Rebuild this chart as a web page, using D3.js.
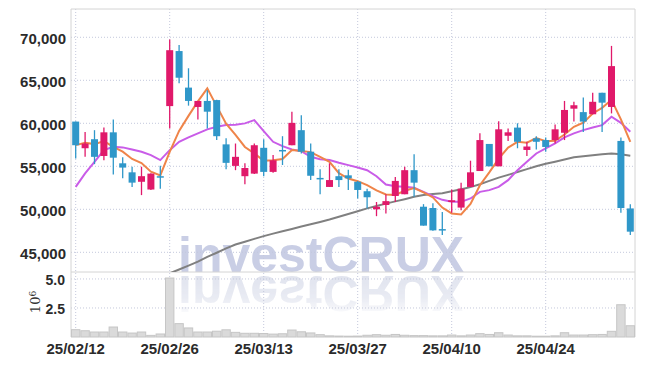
<!DOCTYPE html>
<html lang="en">
<head>
<meta charset="utf-8">
<title>Candles</title>
<script src="https://d3js.org/d3.v7.min.js"></script>
<style>
  body { margin: 0; background: #fff; }
  svg { display: block; }
  .tick-label { font-family: "Liberation Sans Narrow", "Liberation Sans", sans-serif; font-size: 15px; font-weight: bold; fill: #2b2b2b; }
  .grid { stroke: #c4c8dc; stroke-width: 1; stroke-dasharray: 1,2; }
  .frame { stroke: #d4d4d4; stroke-width: 1; fill: none; }
</style>
</head>
<body>
<svg id="chart" width="645" height="366"></svg>
<script>
// trading days
const dates = ["25/02/12","25/02/13","25/02/14","25/02/17","25/02/18","25/02/19","25/02/20","25/02/21","25/02/24","25/02/25",
  "25/02/26","25/02/27","25/02/28","25/03/04","25/03/05","25/03/06","25/03/07","25/03/10","25/03/11","25/03/12",
  "25/03/13","25/03/14","25/03/17","25/03/18","25/03/19","25/03/20","25/03/21","25/03/24","25/03/25","25/03/26",
  "25/03/27","25/03/28","25/03/31","25/04/01","25/04/02","25/04/03","25/04/04","25/04/07","25/04/08","25/04/09",
  "25/04/10","25/04/11","25/04/14","25/04/15","25/04/16","25/04/17","25/04/18","25/04/21","25/04/22","25/04/23",
  "25/04/24","25/04/25","25/04/28","25/04/29","25/04/30","25/05/02","25/05/07","25/05/08","25/05/09","25/05/12"];

const open  = [60200,57100,58150,56200,58950,55350,54300,53200,52300,53850, 62000,68400,64150,61900,62600,62700,57550,55050,53850,54150,
  57150,54350,56900,57450,59200,56700,53650,52600,53850,53950, 53200,52100,50000,50500,51550,51750,54550,50300,50150,47700,
  50850,50200,52600,54450,57600,55000,58550,59500,56900,58250, 58050,58050,58900,61700,61300,61050,63550,61900,57950,50100];
const high  = [60200,59000,59200,59500,60450,56050,54950,54950,54200,55050, 69750,69100,66400,62600,63850,62750,58250,57650,55350,57650,
  58150,56300,58500,61350,60950,57650,54650,55350,54650,54600, 53300,52400,50850,51750,53750,54950,56400,50600,50700,49700,
  52300,53100,55650,58850,57600,60250,59400,60000,57850,58500, 58350,59850,62600,62500,63000,63550,63550,69000,58350,50600];
const low   = [55900,56100,55250,55700,54050,53600,52600,51650,52250,52400, 59400,64650,62050,60450,59400,58050,54650,54550,52900,54100,
  53850,54250,55150,57450,56500,53400,51750,52600,52600,52250, 51250,50100,49200,49500,50850,51750,51450,48100,47500,47000,
  49600,49900,52600,54450,55000,55000,57950,57100,56200,56950, 56700,57650,58050,60200,59000,61050,59000,61150,49600,47000];
const close = [57450,57650,56100,58950,56000,54850,53100,53850,54150,53750, 68500,65300,62600,62600,61350,58500,55400,56100,54800,57450,
  54350,55700,56850,60050,56700,53900,53550,53400,53400,53600, 52250,51400,50300,50950,53300,54550,53100,48100,47550,47600,
  51050,52400,54300,58050,55000,59300,58950,57850,57300,57850, 57250,59300,61550,62100,60200,62500,62400,66650,50150,47400];

// moving averages
const ma5  = [57460,57730,57580,57930,57250,56700,55850,55380,54380,53950, 56670,59110,60860,62550,64070,62000,59950,58650,57250,56500,
  55650,55700,55850,56900,56780,56650,56100,55520,54200,53580, 53270,52810,52200,51720,51660,52150,52480,51970,51380,50200,
  49520,49400,50620,52800,54300,55900,57180,57840,57750,58280, 57920,57960,58700,59600,60070,61140,61800,62730,60450,57830];
const ma20 = [52610,54170,55520,56880,57270,57200,56960,56690,56300,55720, 56880,57850,58360,58830,59290,59600,59790,59830,59990,60370,
  59100,57850,57350,56960,56770,56100,55830,55720,55410,55140, 54870,54550,53850,52890,52690,52610,52500,52030,51530,51100,
  50870,50870,51260,52030,52230,52610,53390,54550,55520,56490, 57080,57660,58360,58830,59210,59520,59790,60760,60060,59010];
const ma60 = [null,null,null,null,null,null,null,null,null,42090, 42560,43000,43460,43920,44460,44950,45450,45900,46230,46560,
  46880,47170,47450,47720,47990,48260,48530,48810,49130,49450, 49780,50110,50380,50660,50920,51180,51450,51670,51790,51880,
  52110,52340,52580,52920,53300,53680,54000,54340,54670,55010, 55290,55540,55800,56040,56160,56280,56390,56500,56390,56240];

// volume in millions
const volume = [0.63,0.54,0.43,0.43,0.86,0.43,0.34,0.43,0.14,0.26, 5.08,1.15,0.78,0.43,0.43,0.50,0.62,0.40,0.32,0.32,
  0.30,0.25,0.28,0.60,0.45,0.35,0.20,0.10,0.08,0.07, 0.08,0.15,0.20,0.15,0.22,0.15,0.12,0.12,0.10,0.10,
  0.17,0.10,0.17,0.29,0.22,0.37,0.17,0.10,0.10,0.07, 0.07,0.10,0.37,0.17,0.17,0.20,0.22,0.49,2.78,0.97];

const priceTicks = [45000, 50000, 55000, 60000, 65000, 70000];
const volTicks = [2.5, 5.0];
const dateTicks = [0, 10, 20, 30, 40, 50];

const upColor = "#e0196a", downColor = "#2f97c9";

const margin = {left: 71, right: 635, top: 9, price: 272, vol: 337};

const svg = d3.select("#chart");

const x = d3.scaleLinear().domain([-0.5, dates.length - 0.5]).range([margin.left, margin.right]);
const step = x(1) - x(0);
const y = d3.scaleLinear().domain([42710, 73290]).range([margin.price, margin.top]);
const yv = d3.scaleLinear().domain([0, 5.6]).range([margin.vol, margin.price]);

// clip for price panel
const defs = svg.append("defs");
defs.append("clipPath").attr("id", "priceClip")
  .append("rect").attr("x", margin.left).attr("y", margin.top)
  .attr("width", margin.right - margin.left).attr("height", margin.price - margin.top);
const grad = defs.append("linearGradient").attr("id", "fade").attr("x1", 0).attr("y1", 0).attr("x2", 0).attr("y2", 1);
grad.append("stop").attr("offset", "0%").attr("stop-color", "#fff").attr("stop-opacity", 1);
grad.append("stop").attr("offset", "55%").attr("stop-color", "#fff").attr("stop-opacity", 0.7);
grad.append("stop").attr("offset", "100%").attr("stop-color", "#fff").attr("stop-opacity", 0);
defs.append("mask").attr("id", "reflMask").attr("maskUnits", "userSpaceOnUse")
  .attr("x", 0).attr("y", 274).attr("width", 645).attr("height", 46)
  .append("rect").attr("x", 0).attr("y", 274).attr("width", 645).attr("height", 44).attr("fill", "url(#fade)");

// watermark
const wmFont = sel => sel.style("font-family", "Liberation Sans, Arial, sans-serif")
  .style("font-weight", "bold").style("font-size", "50px").attr("fill", "#c9cee5");
const wm = svg.append("g");
wm.append("text").attr("x", 178).attr("y", 272).call(wmFont).text("investCRUX");
const refl = wm.append("g").attr("mask", "url(#reflMask)")
  .append("g").attr("transform", "translate(0,548) scale(1,-1)");
refl.append("text").attr("x", 178).attr("y", 272).call(wmFont)
  .attr("fill", "#d6dae8").attr("opacity", 0.75).text("investCRUX");

// grid
const grid = svg.append("g");
grid.selectAll(".hp").data(priceTicks).enter().append("line").attr("class", "grid")
  .attr("x1", margin.left).attr("x2", margin.right).attr("y1", d => y(d)).attr("y2", d => y(d));
grid.selectAll(".hv").data(volTicks).enter().append("line").attr("class", "grid")
  .attr("x1", margin.left).attr("x2", margin.right).attr("y1", d => yv(d)).attr("y2", d => yv(d));
grid.selectAll(".vx").data(dateTicks).enter().append("line").attr("class", "grid")
  .attr("x1", d => x(d)).attr("x2", d => x(d)).attr("y1", margin.top).attr("y2", margin.vol);

// frame
svg.append("path").attr("class", "frame")
  .attr("d", `M${margin.left},${margin.vol}V${margin.top}H${margin.right}V${margin.vol}`);
svg.append("line").attr("class", "frame").attr("x1", margin.left).attr("x2", margin.right)
  .attr("y1", margin.price).attr("y2", margin.price);

// volume bars
svg.append("g").selectAll("rect").data(volume).enter().append("rect")
  .attr("x", (d, i) => x(i) - step / 2 + 0.5)
  .attr("y", d => yv(d))
  .attr("width", step - 1)
  .attr("height", d => yv(0) - yv(d))
  .attr("fill", "#dadada").attr("stroke", "#c6c6c6").attr("stroke-width", 1);

// moving averages
const plot = svg.append("g").attr("clip-path", "url(#priceClip)");
const line = d3.line().defined(d => d != null).x((d, i) => x(i)).y(d => y(d));
plot.append("path").datum(ma60).attr("d", line).attr("fill", "none").attr("stroke", "#808080").attr("stroke-width", 2);
plot.append("path").datum(ma20).attr("d", line).attr("fill", "none").attr("stroke", "#c95ce8").attr("stroke-width", 2);
plot.append("path").datum(ma5).attr("d", line).attr("fill", "none").attr("stroke", "#ef8449").attr("stroke-width", 2);

// candles
const candles = plot.selectAll(".candle").data(dates).enter().append("g");
candles.append("line")
  .attr("x1", (d, i) => x(i)).attr("x2", (d, i) => x(i))
  .attr("y1", (d, i) => y(high[i])).attr("y2", (d, i) => y(low[i]))
  .attr("stroke", (d, i) => close[i] >= open[i] ? upColor : downColor).attr("stroke-width", 1.3);
candles.append("rect")
  .attr("x", (d, i) => x(i) - 3.5)
  .attr("width", 7)
  .attr("y", (d, i) => y(Math.max(open[i], close[i])))
  .attr("height", (d, i) => Math.max(1.5, Math.abs(y(open[i]) - y(close[i]))))
  .attr("fill", (d, i) => close[i] >= open[i] ? upColor : downColor);

// axes labels
svg.append("g").selectAll("text").data(priceTicks).enter().append("text")
  .attr("class", "tick-label").attr("x", 66).attr("y", d => y(d)).attr("dy", "0.46em")
  .attr("text-anchor", "end").text(d3.format(","));
svg.append("g").selectAll("text").data(volTicks).enter().append("text")
  .attr("class", "tick-label").style("font-size", "14px").attr("x", 65).attr("y", d => yv(d)).attr("dy", "0.42em")
  .attr("text-anchor", "end").text(d3.format(".1f"));
svg.append("g").selectAll("text").data(dateTicks).enter().append("text")
  .attr("class", "tick-label").attr("x", d => x(d)).attr("y", 354)
  .attr("text-anchor", "middle").text(d => dates[d]);

const exp = svg.append("text").attr("transform", "translate(40,302) rotate(-90)")
  .attr("text-anchor", "middle")
  .style("font-family", "DejaVu Serif, serif").style("font-size", "13px").attr("fill", "#333");
exp.append("tspan").text("10");
exp.append("tspan").attr("dy", "-0.5em").style("font-size", "9px").text("6");
</script>
</body>
</html>
